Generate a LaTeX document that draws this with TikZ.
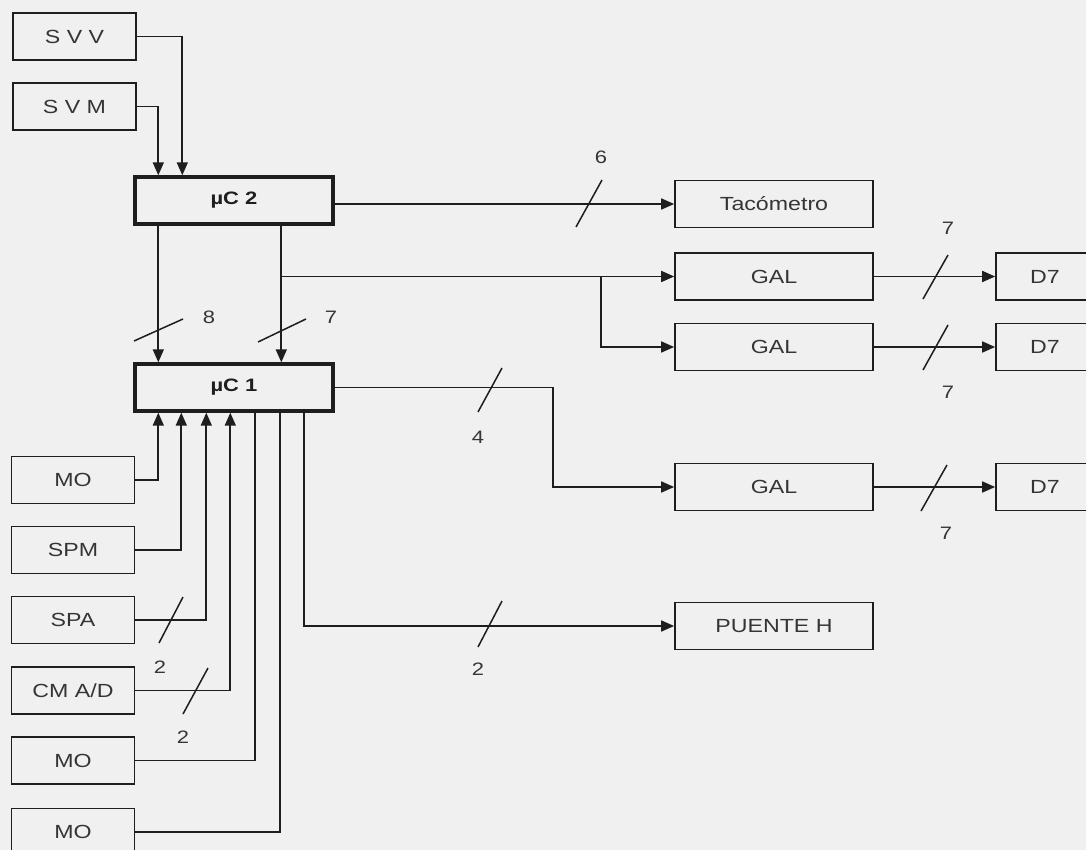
\documentclass[tikz,border=0pt]{standalone}
\usepackage{fontspec}
\setmainfont{Liberation Sans}[FakeStretch=1.22]
\usetikzlibrary{arrows.meta,calc}
\definecolor{bg}{RGB}{240,240,240}
\definecolor{ink}{RGB}{30,30,30}
\tikzset{
  box/.style={draw=ink, line width=1.7pt, fill=bg, minimum width=123pt, minimum height=47pt, inner sep=0pt, font=\fontsize{19}{23}\selectfont, text=ink!90},
  widebox/.style={box, minimum width=198pt},
  mcbox/.style={draw=ink, line width=3.4pt, fill=bg, minimum width=198pt, minimum height=47pt, inner sep=0pt, font=\bfseries\fontsize{18}{22}\selectfont, text=ink},
  dbox/.style={box, minimum width=98pt},
  wire/.style={draw=ink, line width=1.7pt},
  arr/.style={wire, -{Triangle[length=13pt,width=11pt]}},
  busslash/.style={draw=ink, line width=1.5pt},
  lbl/.style={font=\fontsize{18}{22}\selectfont, text=ink!90, inner sep=0pt}
}
\begin{document}
\begin{tikzpicture}[x=1pt,y=-1pt]
\useasboundingbox (0,0) rectangle (1086,850);
\fill[bg] (0,0) rectangle (1086,850);
\clip (0,0) rectangle (1086,850);

% left column boxes
\node[box] (svv) at (74.5,36.5) {S V V};
\node[box] (svm) at (74.5,106.5) {S V M};
\node[box] (mo1) at (73,480) {MO};
\node[box] (spm) at (73,550) {SPM};
\node[box] (spa) at (73,620) {SPA};
\node[box] (cmad) at (73,690.5) {CM A/D};
\node[box] (mo2) at (73,760.5) {MO};
\node[box] (mo3) at (73,832) {MO};

% microcontrollers
\node[mcbox] (mc2) at (234,200.5) {µC 2};
\node[mcbox] (mc1) at (234,387.5) {µC 1};

% right boxes
\node[widebox] (tac) at (774,204) {Tacómetro};
\node[widebox] (gal1) at (774,276.5) {GAL};
\node[widebox] (gal2) at (774,347) {GAL};
\node[widebox] (gal3) at (774,487) {GAL};
\node[widebox] (ph) at (774,626) {PUENTE H};
\node[dbox] (d7a) at (1045,276.5) {D7};
\node[dbox] (d7b) at (1045,347) {D7};
\node[dbox] (d7c) at (1045,487) {D7};

% tap coordinates
\coordinate (t2a) at ([xshift=25pt]mc2.north west);
\coordinate (t2b) at ([xshift=49pt]mc2.north west);
\coordinate (b2a) at ([xshift=25pt]mc2.south west);
\coordinate (b2b) at ([xshift=148pt]mc2.south west);
\coordinate (t1a) at ([xshift=25pt]mc1.north west);
\coordinate (t1b) at ([xshift=148pt]mc1.north west);
\coordinate (u1) at ([xshift=25pt]mc1.south west);
\coordinate (u2) at ([xshift=48pt]mc1.south west);
\coordinate (u3) at ([xshift=73pt]mc1.south west);
\coordinate (u4) at ([xshift=97pt]mc1.south west);
\coordinate (u5) at ([xshift=122pt]mc1.south west);
\coordinate (u6) at ([xshift=147pt]mc1.south west);
\coordinate (u7) at ([xshift=171pt]mc1.south west);
\coordinate (br) at (601,0);

% sensors to uC2
\draw[arr] (svv.east) -| (t2b);
\draw[arr] (svm.east) -| (t2a);

% uC2 to uC1
\draw[arr] (b2a) -- (t1a);
\draw[arr] (b2b) -- (t1b);

% uC2 outputs
\draw[arr] (mc2.east |- tac.west) -- (tac.west);
\draw[arr] (b2b |- gal1.west) -- (gal1.west);
\draw[arr] (br |- gal1.west) |- (gal2.west);

% GAL to D7
\draw[arr] (gal1.east) -- (d7a.west);
\draw[arr] (gal2.east) -- (d7b.west);
\draw[arr] (gal3.east) -- (d7c.west);

% uC1 outputs
\draw[arr] (mc1.east) -- ++(218,0) |- (gal3.west);
\draw[arr] (u7) |- (ph.west);

% inputs to uC1
\draw[arr] (mo1.east) -| (u1);
\draw[arr] (spm.east) -| (u2);
\draw[arr] (spa.east) -| (u3);
\draw[arr] (cmad.east) -| (u4);
\draw[wire] (mo2.east) -| (u5);
\draw[wire] (mo3.east) -| (u6);

% bus slashes
\draw[busslash] (134,341) -- (183,319);
\draw[busslash] (258,342) -- (306,319);
\draw[busslash] (576,227) -- (602,180);
\draw[busslash] (923,299) -- (948,255);
\draw[busslash] (923,370) -- (948,325);
\draw[busslash] (921,511) -- (947,465);
\draw[busslash] (478,412) -- (502,368);
\draw[busslash] (478,647) -- (502,601);
\draw[busslash] (159,643) -- (183,597);
\draw[busslash] (183,714) -- (208,668);

% bus labels
\node[lbl] (l8) at (209,317) {8};
\node[lbl] (l7a) at (331,317) {7};
\node[lbl] (l6) at (601,157) {6};
\node[lbl] (l7b) at (948,228) {7};
\node[lbl] (l7c) at (948,392) {7};
\node[lbl] (l7d) at (946,533) {7};
\node[lbl] (l4) at (478,437) {4};
\node[lbl] (l2a) at (478,669) {2};
\node[lbl] (l2b) at (160,667) {2};
\node[lbl] (l2c) at (183,737) {2};
\end{tikzpicture}
\end{document}
